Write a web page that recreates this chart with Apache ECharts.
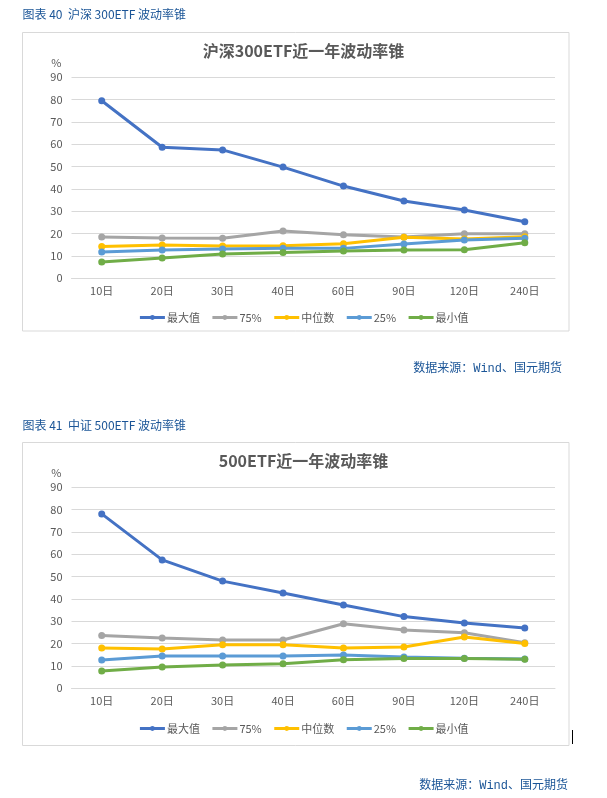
<!DOCTYPE html>
<html>
<head>
<meta charset="utf-8">
<script src="https://cdn.jsdelivr.net/npm/echarts@6/dist/echarts.min.js"></script>
<style>
html,body{margin:0;padding:0;background:#fff;}
#c{width:607px;height:798px;}
</style>
</head>
<body>
<div id="c"></div>
<script>
const categories = ['10日','20日','30日','40日','60日','90日','120日','240日'];
const seriesNames = ['最大值','75%','中位数','25%','最小值'];
const seriesColors = ['#4472C4','#A5A5A5','#FFC000','#5B9BD5','#70AD47'];
const yTicks = {min:0, max:90, interval:10};

// 沪深300ETF
const hs300Max = [79.5,58.7,57.5,49.8,41.3,34.6,30.6,25.3];
const hs300P75 = [18.5,18.0,17.9,21.2,19.5,18.5,20.0,20.0];
const hs300Med = [14.2,14.9,14.5,14.6,15.5,18.4,17.6,18.6];
const hs300P25 = [11.8,12.7,13.1,13.4,13.4,15.4,17.1,17.9];
const hs300Min = [7.3,9.1,10.9,11.5,12.2,12.7,12.8,15.9];

// 500ETF
const zz500Max = [78.1,57.5,48.0,42.7,37.3,32.1,29.2,27.0];
const zz500P75 = [23.6,22.5,21.6,21.6,28.9,26.1,24.9,20.4];
const zz500Med = [18.0,17.6,19.5,19.5,18.0,18.5,23.0,20.1];
const zz500P25 = [12.7,14.5,14.5,14.5,14.9,14.0,13.4,13.1];
const zz500Min = [7.7,9.5,10.4,11.0,12.8,13.3,13.3,13.0];

const headers = ['图表 40  沪深 300ETF 波动率锥','图表 41  中证 500ETF 波动率锥'];
const chartTitles = ['沪深300ETF近一年波动率锥','500ETF近一年波动率锥'];
const sourceText = '数据来源：Wind、国元期货';

const FONT = '"Noto Sans CJK SC","Noto Sans",sans-serif';
const axisColor = '#595959';
const gridLineColor = '#D9D9D9';
const headerColor = '#1B5597';

const chartData = [
  [hs300Max,hs300P75,hs300Med,hs300P25,hs300Min],
  [zz500Max,zz500P75,zz500Med,zz500P25,zz500Min]
];

const grids = [
  {left:71.5, right:52, top:77.3, height:201},
  {left:71.5, right:52, top:487.3, height:201}
];

const xAxes = grids.map((g,i)=>({
  type:'category', gridIndex:i, data:categories,
  axisLine:{show:true, lineStyle:{color:gridLineColor, width:1}},
  axisTick:{show:false},
  axisLabel:{color:axisColor, fontSize:11, fontFamily:FONT, margin:7}
}));
const yAxes = grids.map((g,i)=>({
  type:'value', gridIndex:i, min:yTicks.min, max:yTicks.max, interval:yTicks.interval,
  name:'%', nameLocation:'end', nameGap:14,
  nameTextStyle:{color:axisColor, fontSize:11, fontFamily:FONT, align:'right', verticalAlign:'middle', padding:[0,10,0,0]},
  axisLine:{show:false}, axisTick:{show:false},
  splitLine:{lineStyle:{color:gridLineColor, width:1}},
  axisLabel:{color:axisColor, fontSize:11, fontFamily:FONT, margin:9}
}));

const series = [];
chartData.forEach((set,gi)=>{
  set.forEach((vals,si)=>{
    series.push({
      name:seriesNames[si], type:'line', xAxisIndex:gi, yAxisIndex:gi,
      data:vals, symbol:'circle', symbolSize:7, showSymbol:true,
      lineStyle:{color:seriesColors[si], width:3},
      itemStyle:{color:seriesColors[si]},
      emphasis:{disabled:true}, animation:false
    });
  });
});

const legendTops = [307, 718];
const legends = legendTops.map(t=>({
  top:t, left:'center', itemWidth:25, itemHeight:6, itemGap:11,
  data:seriesNames,
  lineStyle:{width:3},
  textStyle:{color:axisColor, fontSize:11, fontFamily:FONT, padding:[0,0,0,-3]}
}));

const titles = [
  {text:chartTitles[0], left:'center', top:43, padding:0,
   textStyle:{color:'#595959', fontSize:16, fontWeight:'bold', fontFamily:FONT}},
  {text:chartTitles[1], left:'center', top:453, padding:0,
   textStyle:{color:'#595959', fontSize:16, fontWeight:'bold', fontFamily:FONT}}
];

const graphic = [
  {type:'rect', shape:{x:22.5, y:32.5, width:546.5, height:298.5}, style:{fill:'none', stroke:gridLineColor, lineWidth:1}, z:-1, silent:true},
  {type:'rect', shape:{x:22.5, y:442.5, width:546.5, height:303}, style:{fill:'none', stroke:gridLineColor, lineWidth:1}, z:-1, silent:true},
  {type:'text', x:22.5, y:14, style:{text:headers[0], fill:headerColor, font:'12px '+FONT, textVerticalAlign:'middle', textAlign:'left'}, silent:true},
  {type:'text', x:22.5, y:425, style:{text:headers[1], fill:headerColor, font:'12px '+FONT, textVerticalAlign:'middle', textAlign:'left'}, silent:true},
  {type:'text', x:562, y:369, style:{text:sourceText, fill:headerColor, font:'12px "Liberation Mono","Noto Sans CJK SC",monospace', textVerticalAlign:'middle', textAlign:'right'}, silent:true},
  {type:'text', x:568, y:786, style:{text:sourceText, fill:headerColor, font:'12px "Liberation Mono","Noto Sans CJK SC",monospace', textVerticalAlign:'middle', textAlign:'right'}, silent:true},
  {type:'line', shape:{x1:572.5, y1:730, x2:572.5, y2:744}, style:{stroke:'#000', lineWidth:1}, silent:true}
];

const chart = echarts.init(document.getElementById('c'), null, {renderer:'canvas'});
chart.setOption({
  animation:false,
  backgroundColor:'#ffffff',
  title:titles,
  legend:legends,
  grid:grids,
  xAxis:xAxes,
  yAxis:yAxes,
  series:series,
  graphic:graphic
});
</script>
</body>
</html>
